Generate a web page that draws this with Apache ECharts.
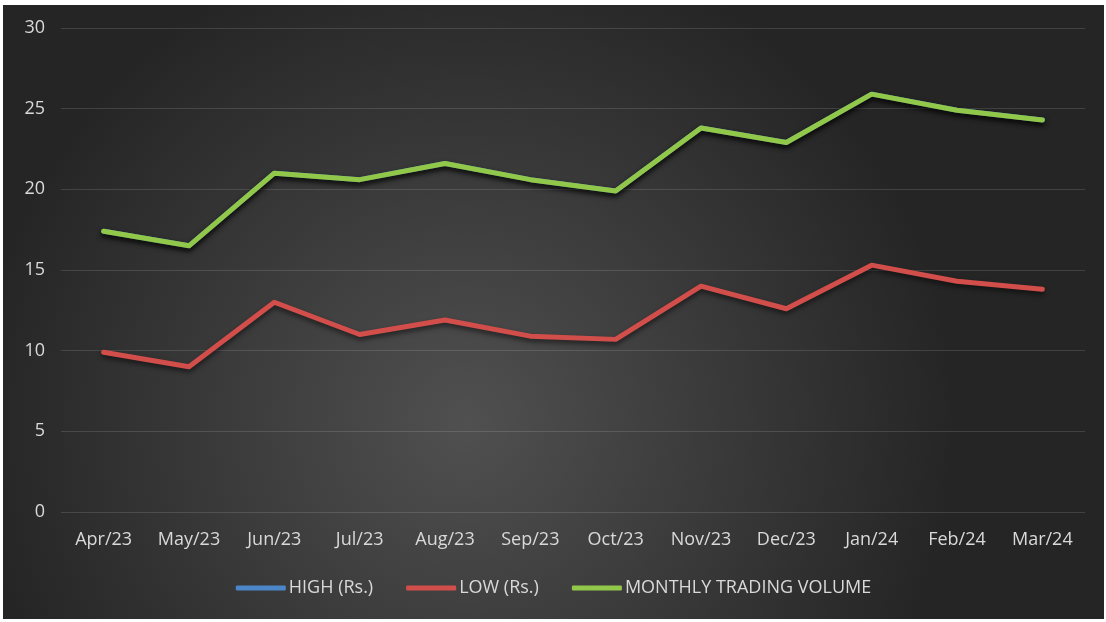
<!DOCTYPE html>
<html>
<head>
<meta charset="utf-8">
<script src="https://cdn.jsdelivr.net/npm/echarts@6/dist/echarts.min.js"></script>
<style>
  html, body { margin: 0; padding: 0; background: #ffffff; width: 1106px; height: 622px; overflow: hidden; }
  #chart { position: absolute; left: 3px; top: 5px; width: 1101px; height: 614px; }
</style>
</head>
<body>
<div id="chart"></div>
<script>
const categories = ['Apr/23','May/23','Jun/23','Jul/23','Aug/23','Sep/23','Oct/23','Nov/23','Dec/23','Jan/24','Feb/24','Mar/24'];
const highValues = [17.4, 16.5, 21.0, 20.6, 21.6, 20.6, 19.9, 23.8, 22.9, 25.9, 24.9, 24.3];
const lowValues = [9.9, 9.0, 13.0, 11.0, 11.9, 10.9, 10.7, 14.0, 12.6, 15.3, 14.3, 13.8];
const volumeValues = [17.4, 16.5, 21.0, 20.6, 21.6, 20.6, 19.9, 23.8, 22.9, 25.9, 24.9, 24.3];
const yTicks = [0, 5, 10, 15, 20, 25, 30];

const chart = echarts.init(document.getElementById('chart'));
const font = '"Open Sans", Lato, sans-serif';
const shadow = { shadowColor: 'rgba(0,0,0,0.55)', shadowBlur: 5, shadowOffsetY: 3 };

chart.setOption({
  backgroundColor: {
    type: 'radial', x: 0.42, y: 0.68, r: 0.8,
    colorStops: [
      { offset: 0, color: '#505050' },
      { offset: 1, color: '#252525' }
    ]
  },
  textStyle: { fontFamily: font },
  grid: { left: 58, right: 19, top: 23, bottom: 107, containLabel: false },
  legend: {
    bottom: 17,
    left: 'center',
    icon: 'roundRect',
    itemWidth: 50,
    itemHeight: 5,
    itemGap: 33,
    textStyle: { color: '#d9d9d9', fontSize: 18, fontFamily: font, padding: [0, 0, 0, -2] },
    data: ['HIGH (Rs.)', 'LOW (Rs.)', 'MONTHLY TRADING VOLUME']
  },
  xAxis: {
    type: 'category',
    data: categories,
    boundaryGap: true,
    axisLine: { show: false },
    axisTick: { show: false },
    axisLabel: { color: '#d9d9d9', fontSize: 18, margin: 19, fontFamily: font }
  },
  yAxis: {
    type: 'value',
    min: yTicks[0],
    max: yTicks[yTicks.length - 1],
    interval: 5,
    axisLine: { show: false },
    axisTick: { show: false },
    axisLabel: { color: '#d9d9d9', fontSize: 18, margin: 16, fontFamily: font },
    splitLine: { lineStyle: { color: 'rgba(255,255,255,0.13)', width: 1 } }
  },
  series: [
    {
      name: 'HIGH (Rs.)', type: 'line', data: highValues, symbol: 'none',
      itemStyle: { color: '#4a86c8' },
      lineStyle: Object.assign({ color: '#4a86c8', width: 5, cap: 'round', join: 'round' }, shadow)
    },
    {
      name: 'LOW (Rs.)', type: 'line', data: lowValues, symbol: 'none',
      itemStyle: { color: '#d24e4b' },
      lineStyle: Object.assign({ color: '#d24e4b', width: 5, cap: 'round', join: 'round' }, shadow)
    },
    {
      name: 'MONTHLY TRADING VOLUME', type: 'line', data: volumeValues, symbol: 'none',
      itemStyle: { color: '#92c84a' },
      lineStyle: Object.assign({ color: '#92c84a', width: 5, cap: 'round', join: 'round' }, shadow)
    }
  ],
  animation: false
});
</script>
</body>
</html>
